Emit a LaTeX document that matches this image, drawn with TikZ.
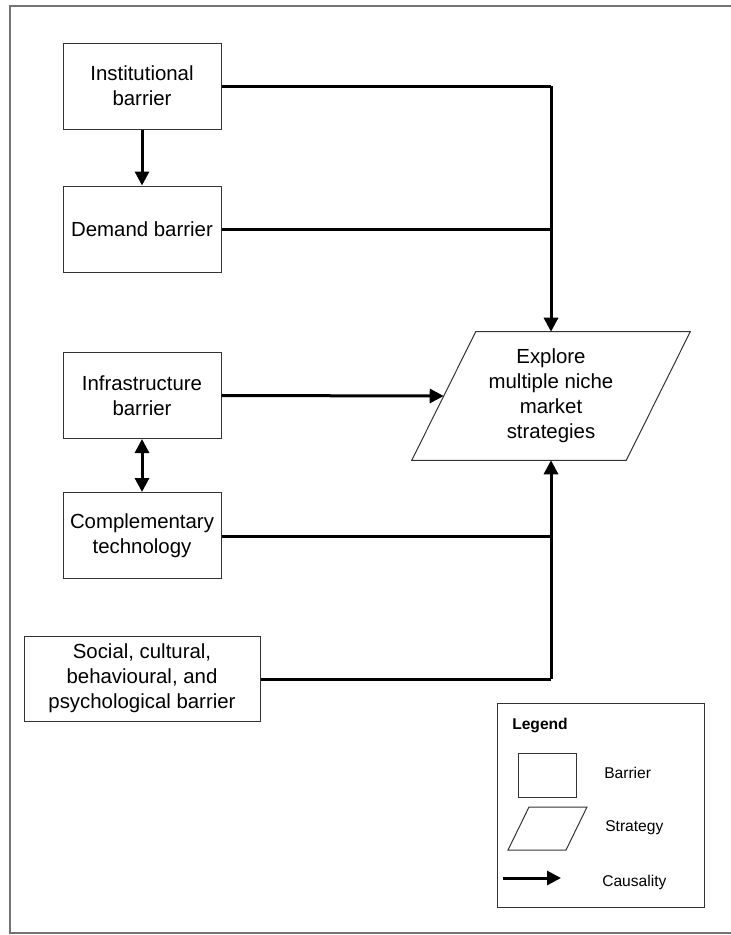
\documentclass[tikz,border=0pt]{standalone}
\usepackage{fontspec}
\setmainfont{Liberation Sans}
\usetikzlibrary{arrows.meta,calc}

\tikzset{
  barrier/.style={draw=black!80, line width=0.75pt, minimum width=118.5pt,
    minimum height=64.5pt, align=center, inner sep=0pt,
    font=\fontsize{15.3pt}{18.8pt}\selectfont},
  flow/.style={line width=2.25pt},
  cause/.style={flow, -{Triangle[length=10.5pt,width=10.5pt]}},
  bicause/.style={flow, {Triangle[length=10.5pt,width=10.5pt]}-{Triangle[length=10.5pt,width=10.5pt]}},
  legtext/.style={anchor=west, inner sep=0pt, font=\fontsize{11.7pt}{14pt}\selectfont},
  frame/.style={draw=black!55, line width=1.5pt}
}

\begin{document}
\begin{tikzpicture}[x=0.75pt, y=-0.75pt]
  \useasboundingbox (0,0) rectangle (731,935);

  % outer frame (open on the right)
  \draw[frame] (731,6) -- (9.5,6) -- (9.5,933) -- (731,933);

  % barrier boxes
  \node[barrier] (inst)   at (142,86)    {Institutional\\barrier};
  \node[barrier] (demand) at (142,229)   {Demand barrier};
  \node[barrier] (infra)  at (142,395.5) {Infrastructure\\barrier};
  \node[barrier] (comp)   at (142,535.5) {Complementary\\technology};
  \node[barrier, minimum width=177pt, minimum height=63.75pt] (social) at (142,678.5)
    {Social, cultural,\\behavioural, and\\psychological barrier};

  % strategy parallelogram
  \node[minimum width=160.5pt, minimum height=96pt, inner sep=0pt, align=center,
        font=\fontsize{15.3pt}{18.8pt}\selectfont] (strat) at (551,396)
    {Explore\\multiple niche\\market\\strategies};
  \draw[black!80, line width=0.75pt]
    ([xshift=24pt]strat.north west) -- ([xshift=24pt]strat.north east)
    -- ([xshift=-24pt]strat.south east) -- ([xshift=-24pt]strat.south west) -- cycle;

  % junction points on the collector line
  \coordinate (jtop) at (551,86);
  \coordinate (jdem) at (551,229);
  \coordinate (jcomp) at (551,536);
  \coordinate (jsoc) at (551,679);

  % causal links
  \draw[cause] (inst) -- (demand);
  \draw[bicause] (infra) -- (comp);
  \draw[flow] (inst.east) -- (jtop);
  \draw[cause] (jtop) -- (strat.north);
  \draw[flow] (demand.east) -- (jdem);
  \draw[cause] (infra.east) -- (strat.west);
  \draw[flow] (comp.east |- jcomp) -- (jcomp);
  \draw[flow] (social.east |- jsoc) -- (jsoc);
  \draw[cause] (jsoc) -- (strat.south);

  % legend
  \node[draw=black!80, line width=0.75pt, minimum width=155.25pt, minimum height=153pt,
        inner sep=0pt] (legend) at (600.5,805) {};
  \node[legtext, font=\bfseries\fontsize{11.7pt}{14pt}\selectfont] (legtitle) at (512,725) {Legend};
  \node[draw=black!80, line width=0.75pt, minimum width=43.5pt, minimum height=33pt,
        inner sep=0pt] (legbox) at (547,775) {};
  \node[legtext] (legboxlab) at (604,773) {Barrier};
  \coordinate (lp1) at (529,807);
  \coordinate (lp2) at (587,807);
  \coordinate (lp3) at (566,850);
  \coordinate (lp4) at (508,850);
  \draw[black!80, line width=0.75pt] (lp1) -- (lp2) -- (lp3) -- (lp4) -- cycle;
  \node[legtext] (legparalab) at (605,828) {Strategy};
  \coordinate (la1) at (503,878);
  \coordinate (la2) at (561,878);
  \draw[cause] (la1) -- (la2);
  \node[legtext] (legarrlab) at (602,882) {Causality};
\end{tikzpicture}
\end{document}
